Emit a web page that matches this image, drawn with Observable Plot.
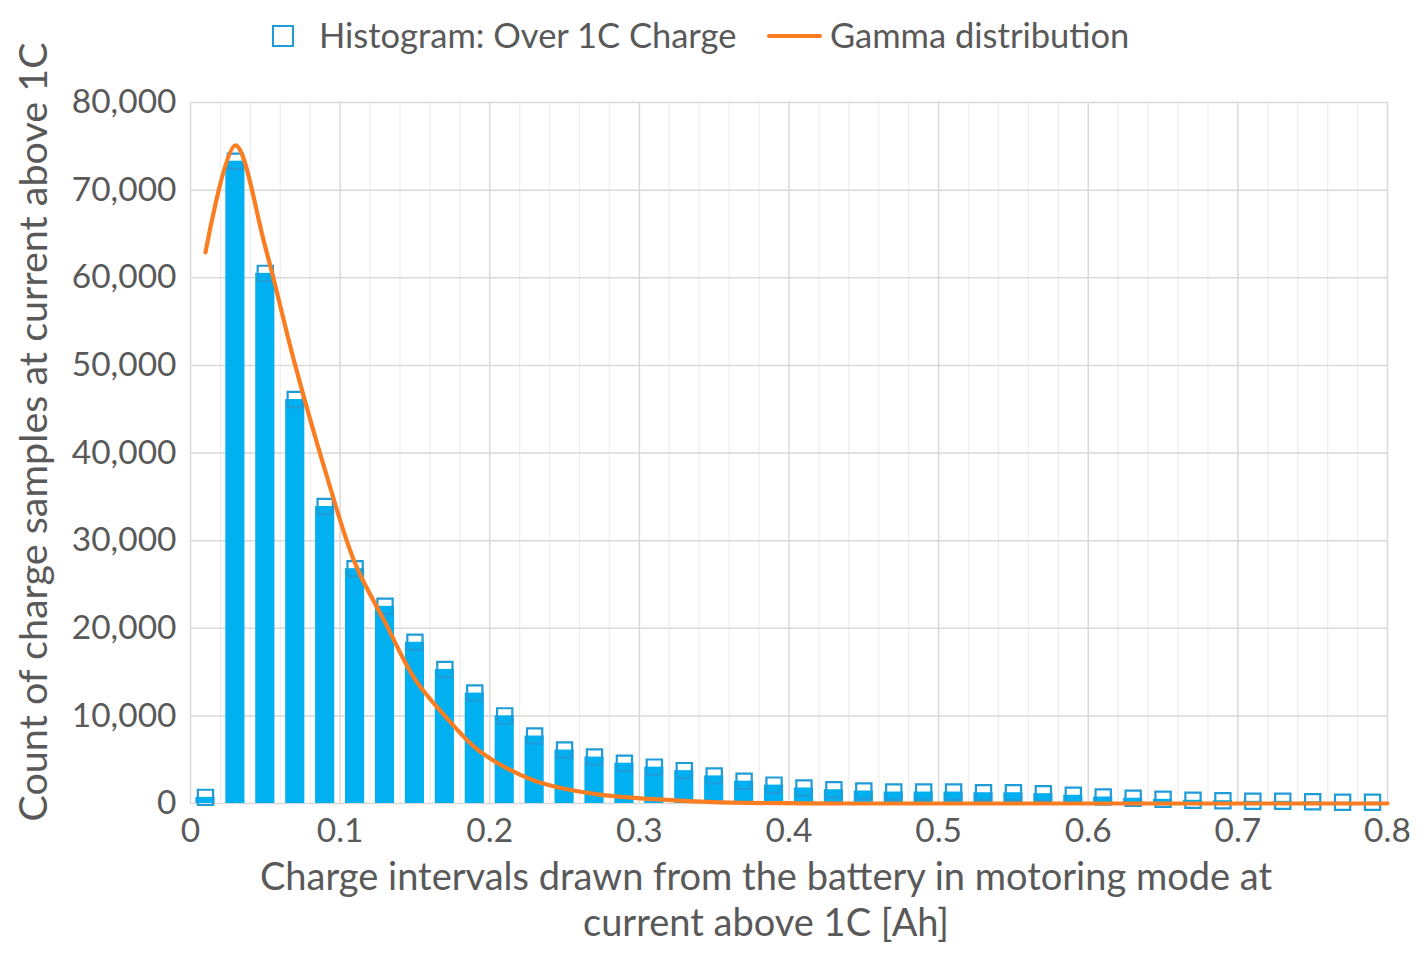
<!DOCTYPE html>
<html>
<head>
<meta charset="utf-8">
<script src="https://cdn.jsdelivr.net/npm/d3@7"></script>
<script src="https://cdn.jsdelivr.net/npm/@observablehq/plot@0.6"></script>
<style>
  html, body { margin: 0; padding: 0; background: #ffffff; }
  body { width: 1428px; height: 955px; overflow: hidden; font-family: Lato, "Open Sans", sans-serif; }
  #legend { position: relative; width: 1428px; height: 70px; color: #595959; font-size: 34.5px; }
  #legend .sq { position: absolute; left: 272px; top: 25px; width: 18px; height: 18px; border: 2.5px solid #1f9bd7; background: transparent; }
  #legend .t1 { position: absolute; left: 319px; top: 12px; line-height: 46px; white-space: nowrap; }
  #legend .ln { position: absolute; left: 767px; top: 34px; width: 55px; height: 4px; background: #fb7d22; border-radius: 2px; }
  #legend .t2 { position: absolute; left: 830px; top: 12px; line-height: 46px; white-space: nowrap; }
  #chart svg { display: block; }
</style>
</head>
<body>
<div id="legend">
  <span class="sq"></span><span class="t1">Histogram: Over 1C Charge</span>
  <span class="ln"></span><span class="t2">Gamma distribution</span>
</div>
<div id="chart"></div>
<script>
// Histogram bin centres [Ah] and counts
const binCenters = [0.01, 0.03, 0.05, 0.07, 0.09, 0.11, 0.13, 0.15, 0.17, 0.19,
                    0.21, 0.23, 0.25, 0.27, 0.29, 0.31, 0.33, 0.35, 0.37, 0.39,
                    0.41, 0.43, 0.45, 0.47, 0.49, 0.51, 0.53, 0.55, 0.57, 0.59,
                    0.61, 0.63, 0.65, 0.67, 0.69, 0.71, 0.73, 0.75, 0.77, 0.79];
const counts = [700, 73300, 60500, 46100, 33900, 26800, 22500, 18400, 15300, 12600,
                10000, 7700, 6100, 5300, 4600, 4150, 3750, 3150, 2550, 2100,
                1770, 1570, 1430, 1310, 1310, 1310, 1230, 1230, 1120, 940,
                740, 600, 480, 370, 320, 250, 250, 200, 150, 150];

// Gamma distribution curve
const gammaX = [0.01, 0.03, 0.05, 0.07, 0.09, 0.11, 0.13, 0.15, 0.17, 0.19,
                0.21, 0.23, 0.25, 0.27, 0.29, 0.31, 0.33, 0.35, 0.37, 0.39,
                0.41, 0.45, 0.50, 0.60, 0.70, 0.80];
const gammaY = [62900, 75100, 63500, 50000, 38000, 27400, 20700, 14200, 10000, 6400,
                4150, 2600, 1680, 1100, 720, 490, 300, 150, 80, 40,
                20, 0, 0, 0, 0, 0];

const xTicks = [0, 0.1, 0.2, 0.3, 0.4, 0.5, 0.6, 0.7, 0.8];
const yTicks = [0, 10000, 20000, 30000, 40000, 50000, 60000, 70000, 80000];

const xTitle = "Charge intervals drawn from the battery in motoring mode at\ncurrent above 1C [Ah]";
const yTitle = "Count of charge samples at current above 1C";

const bins = binCenters.map((x, i) => ({x, count: counts[i]}));
const gamma = gammaX.map((x, i) => ({x, y: gammaY[i]}));
const halfBar = 0.0064;
const minorX = d3.range(1, 40).map(i => i / 50).filter(v => Math.abs(v * 10 - Math.round(v * 10)) > 1e-6);
const fmtX = d => String(+d.toFixed(1));

const chart = Plot.plot({
  width: 1428,
  height: 885,
  marginTop: 32,
  marginLeft: 190,
  marginRight: 41,
  marginBottom: 152,
  style: {fontFamily: "Lato, 'Open Sans', sans-serif", color: "#595959", background: "#ffffff", overflow: "visible"},
  x: {domain: [0, 0.8], ticks: xTicks, tickFormat: fmtX},
  y: {domain: [0, 80000], ticks: yTicks, tickFormat: d3.format(",")},
  marks: [
    Plot.ruleX(minorX, {stroke: "#efefef", strokeWidth: 1.3}),
    Plot.ruleX(xTicks, {stroke: "#d9d9d9", strokeWidth: 1.5}),
    Plot.ruleY(yTicks, {stroke: "#d9d9d9", strokeWidth: 1.5}),
    Plot.rectY(bins, {x1: d => d.x - halfBar, x2: d => d.x + halfBar, y1: 0, y2: "count", fill: "#00b0f0"}),
    Plot.dot(bins, {x: "x", y: "count", symbol: "square", r: 8.6, fill: "none", stroke: "#1f9bd7", strokeWidth: 2.2}),
    Plot.line(gamma, {x: "x", y: "y", stroke: "#fb7d22", strokeWidth: 4.2, curve: "catmull-rom"}),
    Plot.axisX(xTicks, {tickSize: 0, tickPadding: 15, fontSize: 33.5, label: null, tickFormat: fmtX, fill: "#595959"}),
    Plot.axisY(yTicks, {tickSize: 0, tickPadding: 14, fontSize: 33.5, label: null, tickFormat: d3.format(","), fill: "#595959"}),
    Plot.text([xTitle], {frameAnchor: "bottom", textAnchor: "middle", lineAnchor: "middle", dy: 95, dx: -23, fontSize: 38, lineHeight: 1.2, fill: "#595959", text: d => d}),
    Plot.text([yTitle], {frameAnchor: "left", textAnchor: "middle", lineAnchor: "middle", rotate: -90, dx: -156, dy: -21, fontSize: 39.5, fill: "#595959", text: d => d})
  ]
});
document.getElementById("chart").appendChild(chart);
</script>
</body>
</html>
